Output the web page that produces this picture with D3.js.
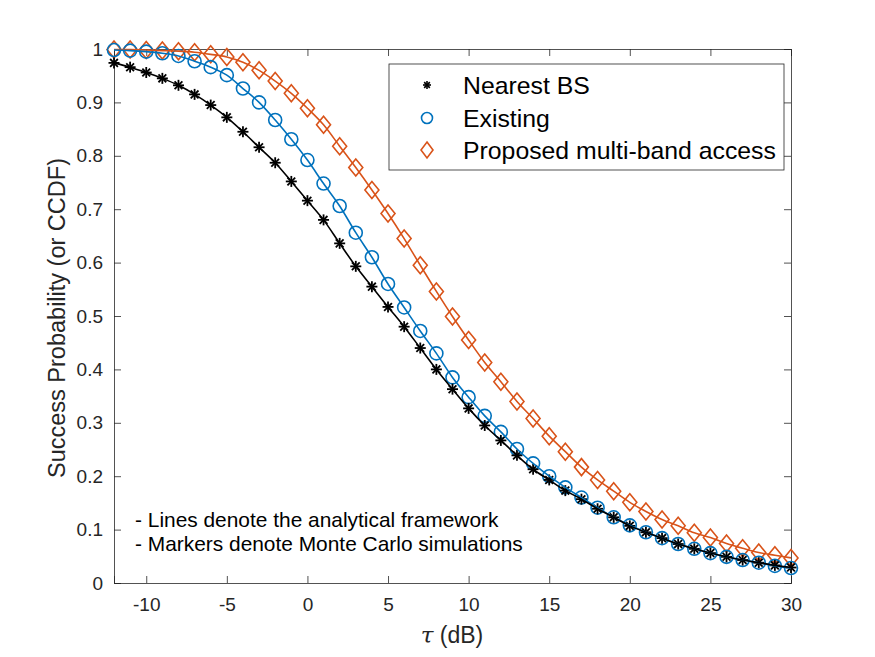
<!DOCTYPE html>
<html><head><meta charset="utf-8">
<script src="https://cdn.jsdelivr.net/npm/d3@7"></script>
<style>body{margin:0;background:#fff;} text{font-family:"Liberation Sans",Arial,Helvetica,sans-serif;}</style>
</head><body><svg id="c" width="875" height="657"></svg>
<script>
const tau = d3.range(-12, 31, 1);
const nearestBS = [0.974,0.966,0.956,0.945,0.932,0.915,0.895,0.872,0.845,0.816,0.787,0.752,0.716,0.680,0.636,0.593,0.555,0.517,0.480,0.440,0.400,0.363,0.327,0.295,0.267,0.239,0.213,0.193,0.173,0.157,0.139,0.123,0.107,0.095,0.084,0.073,0.064,0.056,0.049,0.043,0.038,0.033,0.029];
const existing = [0.998,0.997,0.995,0.992,0.987,0.977,0.966,0.951,0.926,0.900,0.867,0.831,0.792,0.748,0.706,0.656,0.610,0.560,0.516,0.472,0.430,0.385,0.348,0.313,0.283,0.251,0.224,0.200,0.179,0.160,0.141,0.123,0.108,0.095,0.084,0.073,0.064,0.056,0.049,0.043,0.038,0.032,0.028];
const proposed = [0.999,0.999,0.998,0.997,0.996,0.994,0.990,0.985,0.975,0.960,0.940,0.917,0.889,0.858,0.818,0.778,0.736,0.692,0.645,0.595,0.546,0.499,0.455,0.413,0.377,0.340,0.308,0.275,0.246,0.217,0.193,0.172,0.151,0.134,0.119,0.107,0.094,0.085,0.074,0.065,0.057,0.052,0.047];
const xTicks = [-10,-5,0,5,10,15,20,25,30];
const yTicks = [0,0.1,0.2,0.3,0.4,0.5,0.6,0.7,0.8,0.9,1];
const seriesNames = ["Nearest BS","Existing","Proposed multi-band access"];
const notes = ["- Lines denote the analytical framework","- Markers denote Monte Carlo simulations"];

const L=114, R=791, T=49, B=583;
const x = d3.scaleLinear().domain([-12,30]).range([L,R]);
const y = d3.scaleLinear().domain([0,1]).range([B,T]);
const svg = d3.select("#c");
const axCol = "#262626";

// axes
const gx = svg.append("g").attr("transform",`translate(0,${B})`)
  .call(d3.axisBottom(x).tickValues(xTicks).tickSize(-7).tickPadding(15).tickFormat(d=>String(d)));
const gy = svg.append("g").attr("transform",`translate(${L},0)`)
  .call(d3.axisLeft(y).tickValues(yTicks).tickSize(-7).tickPadding(11).tickFormat(d=>String(d)));
const gxt = svg.append("g").attr("transform",`translate(0,${T})`)
  .call(d3.axisTop(x).tickValues(xTicks).tickSize(-7).tickFormat(""));
const gyr = svg.append("g").attr("transform",`translate(${R},0)`)
  .call(d3.axisRight(y).tickValues(yTicks).tickSize(-7).tickFormat(""));
[gx,gy,gxt,gyr].forEach(g=>{
  g.select(".domain").attr("stroke",axCol).attr("stroke-width",0.8);
  g.selectAll(".tick line").attr("stroke",axCol).attr("stroke-width",0.8);
  g.selectAll(".tick text").attr("fill",axCol).style("font-size","19px");
});

// markers
function star(g, cx, cy, r, w){
  for(const a of [0,45,90,135]){
    const t=a*Math.PI/180;
    g.append("line").attr("x1",cx-r*Math.cos(t)).attr("y1",cy-r*Math.sin(t))
      .attr("x2",cx+r*Math.cos(t)).attr("y2",cy+r*Math.sin(t))
      .attr("stroke","#000").attr("stroke-width",w);
  }
}
const blue="#0072BD", orange="#D95319";
const mk = svg.append("g");
tau.forEach((t,i)=>{
  mk.append("path").attr("d",`M${x(t)},${y(proposed[i])-8.5}l7,8.5l-7,8.5l-7,-8.5z`)
    .attr("fill","none").attr("stroke",orange).attr("stroke-width",1.6);
});
tau.forEach((t,i)=>{
  mk.append("circle").attr("cx",x(t)).attr("cy",y(existing[i])).attr("r",6.5)
    .attr("fill","none").attr("stroke",blue).attr("stroke-width",1.6);
});
tau.forEach((t,i)=>{ star(mk, x(t), y(nearestBS[i]), 5.5, 1.8); });

// lines
const line = d3.line().curve(d3.curveMonotoneX);
[[proposed,orange],[existing,blue],[nearestBS,"#000"]].forEach(([v,c])=>{
  svg.append("path").attr("d",line(tau.map((t,i)=>[x(t),y(v[i])])))
    .attr("fill","none").attr("stroke",c).attr("stroke-width",1.6);
});

// legend
const lg = svg.append("g");
lg.append("rect").attr("x",389).attr("y",64).attr("width",395).attr("height",106)
  .attr("fill","#fff").attr("stroke",axCol).attr("stroke-width",0.8);
const rows=[85,118,150];
seriesNames.forEach((n,i)=>{
  lg.append("text").attr("x",463).attr("y",rows[i]+9).text(n).style("font-size","24.8px").attr("fill","#000");
});
star(lg,427,rows[0],4,1.6);
lg.append("circle").attr("cx",427).attr("cy",rows[1]).attr("r",5.5).attr("fill","none").attr("stroke",blue).attr("stroke-width",1.6);
lg.append("path").attr("d",`M427,${rows[2]-8}l6,8l-6,8l-6,-8z`).attr("fill","none").attr("stroke",orange).attr("stroke-width",1.6);

// notes
notes.forEach((n,i)=>{
  svg.append("text").attr("x",135).attr("y",527+i*24).text(n).style("font-size","20.9px").attr("fill","#000");
});

// axis labels
svg.append("text").attr("transform","translate(65,318) rotate(-90)").attr("text-anchor","middle")
  .style("font-size","23.5px").attr("fill",axCol).text("Success Probability (or CCDF)");
const xl = svg.append("text").attr("x",452).attr("y",643).attr("text-anchor","middle").style("font-size","23px").attr("fill",axCol);
xl.append("tspan").attr("font-style","italic").attr("font-family","DejaVu Serif, serif").text("τ");
xl.append("tspan").text(" (dB)");
</script></body></html>
